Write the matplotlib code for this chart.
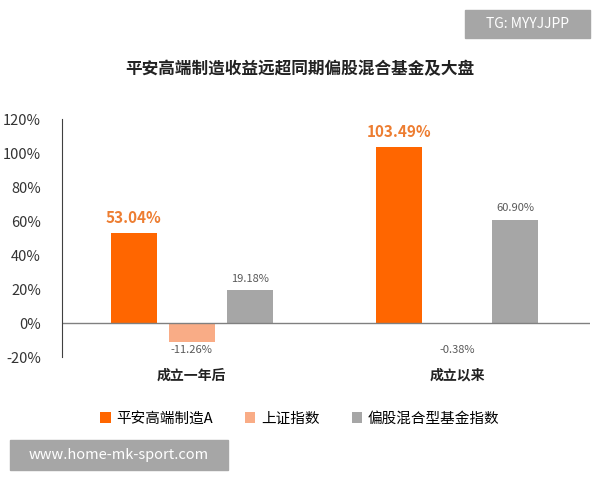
import matplotlib.pyplot as plt
from matplotlib.patches import Rectangle

plt.rcParams['font.family'] = ['Noto Sans CJK SC', 'DejaVu Sans']

categories = ['成立一年后', '成立以来']
series = ['平安高端制造A', '上证指数', '偏股混合型基金指数']
values = [[53.04, 103.49], [-11.26, -0.38], [19.18, 60.90]]
colors = ['#FF6600', '#F9AC86', '#A6A6A6']
yticks = [-20, 0, 20, 40, 60, 80, 100, 120]

fig = plt.figure(figsize=(6, 4.8), dpi=100)
ax = fig.add_axes([0.103, 0.256, 0.88, 0.496])

offsets = [-0.219, 0, 0.219]
width = 0.174
for i, (name, vals, c) in enumerate(zip(series, values, colors)):
    xs = [g + offsets[i] for g in range(len(categories))]
    ax.bar(xs, vals, width, color=c, label=name)
    for x, v in zip(xs, vals):
        if i == 0:
            ax.text(x, v + 4, f'{v:.2f}%', ha='center', va='bottom',
                    color='#ED7D31', fontsize=11, fontweight='bold')
        elif v < 0:
            ax.text(x, -20 + 1, f'{v:.2f}%', ha='center', va='bottom',
                    color='#595959', fontsize=8)
        else:
            ax.text(x, v + 4, f'{v:.2f}%', ha='center', va='bottom',
                    color='#595959', fontsize=8)

ax.set_xlim(-0.49, 1.5)
ax.set_ylim(-20, 120)
ax.set_yticks(yticks)
ax.set_yticklabels([f'{t}%' for t in yticks], fontsize=10.5, color='#333333')
ax.set_xticks([])
ax.axhline(0, color='#808080', lw=1)
for s in ['top', 'right', 'bottom']:
    ax.spines[s].set_visible(False)
ax.spines['left'].set_color('#404040')
ax.tick_params(axis='y', length=0, pad=15)
for g, cat in enumerate(categories):
    ax.text(g, -31, cat, ha='center', va='center', fontsize=10,
            fontweight='bold', color='#222222')

fig.text(0.5, 0.855, '平安高端制造收益远超同期偏股混合基金及大盘', ha='center',
         va='center', fontsize=12, fontweight='bold', color='#222222')

fig.legend(loc='center', bbox_to_anchor=(0.5, 0.128), ncol=3, frameon=False,
           fontsize=10.5, handlelength=0.7, handleheight=0.7, columnspacing=2.2,
           handletextpad=0.4)

fig.patches.append(Rectangle((0.775, 0.921), 0.208, 0.058, transform=fig.transFigure,
                             color='#A6A6A6'))
fig.text(0.879, 0.95, 'TG: MYYJJPP', ha='center', va='center', color='white', fontsize=10)
fig.patches.append(Rectangle((0.017, 0.021), 0.363, 0.063, transform=fig.transFigure,
                             color='#A6A6A6'))
fig.text(0.198, 0.053, 'www.home-mk-sport.com', ha='center', va='center',
         color='white', fontsize=10.5)

fig.savefig('out.png', dpi=100)
